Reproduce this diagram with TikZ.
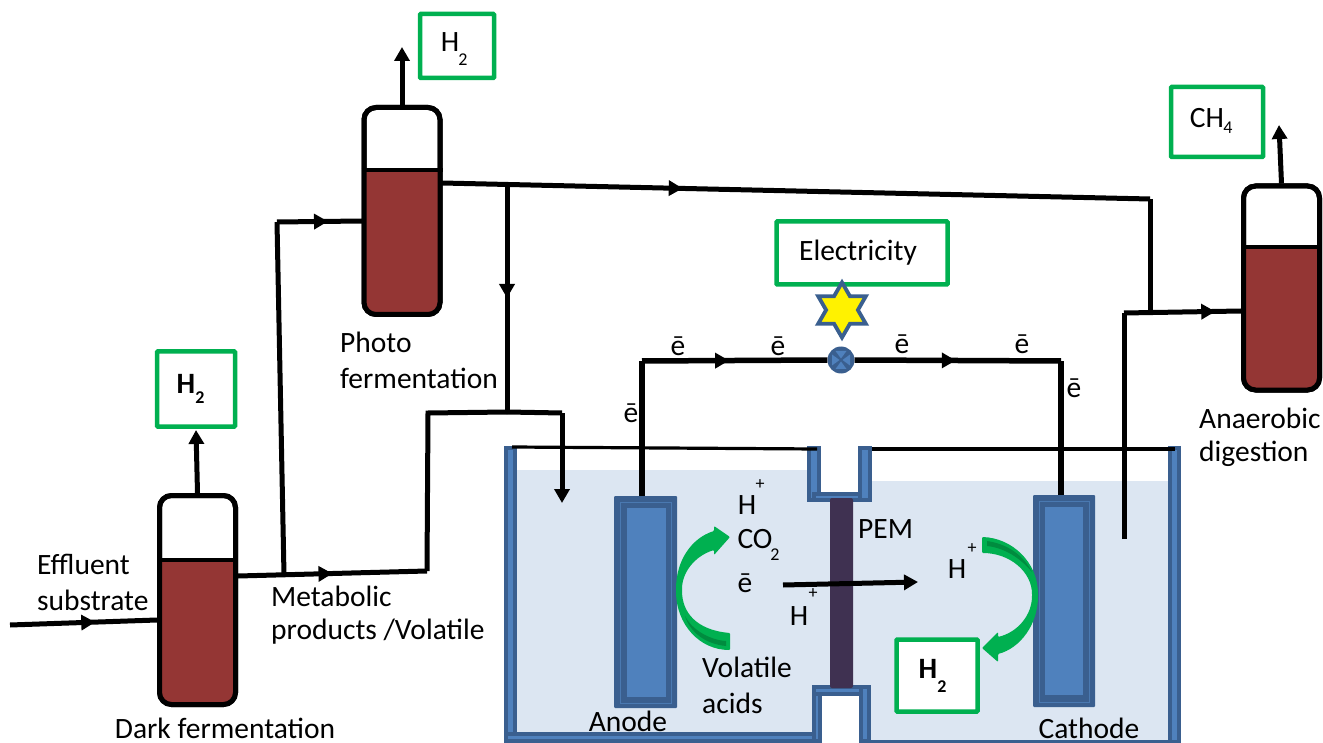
\documentclass[tikz,border=0pt]{standalone}
\usepackage{fontspec}
\setmainfont{Carlito}
\usetikzlibrary{arrows.meta,decorations.markings,shapes.geometric}
\definecolor{gbox}{HTML}{00B050}
\definecolor{gdark}{HTML}{008C3F}
\definecolor{brownfill}{HTML}{943634}
\definecolor{wallblue}{HTML}{4F81BD}
\definecolor{walldark}{HTML}{3A5F8F}
\definecolor{liquid}{HTML}{DCE6F2}
\definecolor{pemcol}{HTML}{3F3151}
\tikzset{
  x=1pt,y=-1pt,
  lab/.style={inner sep=0pt,font=\fontsize{29.5}{29.5}\selectfont},
  labl/.style={lab,anchor=west},
  sub/.style={inner sep=0pt,font=\fontsize{18}{18}\selectfont},
  gasbox/.style={draw=gbox,line width=4.5pt,rounded corners=0.8pt,fill=white,inner sep=0pt},
  pipe/.style={line width=5pt,black},
  wire/.style={line width=5.5pt,black},
  tip/.style={-{Triangle[length=14pt,width=15pt]}},
  midtip/.style={postaction={decorate},decoration={markings,mark=at position #1 with {\arrow{Triangle[length=14pt,width=15pt]}}}},
  vessel/.style={draw=black,line width=5pt,rounded corners=12pt,minimum width=76pt,minimum height=#1,inner sep=0pt,fill=white},
  wallpart/.style={fill=wallblue,draw=walldark,line width=3.5pt},
  electrode/.style={fill=walldark,rounded corners=1pt,inner sep=0pt},
}
\newcommand{\vesselfill}[4]{% x1 x2 level bottom
  \fill[brownfill,rounded corners=10pt] (#1,#3) -- (#2,#3) -- (#2,#4) -- (#1,#4) -- cycle;
  \fill[brownfill] (#1,#3) rectangle (#2,#3+15);
}
\begin{document}
\begin{tikzpicture}
\useasboundingbox (0,0) rectangle (1323,743);

% liquid
\fill[liquid] (517,470) -- (812,470) -- (812,502) -- (871,502) -- (871,481) -- (1168,481) -- (1168,742) -- (871,742) -- (871,690) -- (812,690) -- (812,733) -- (517,733) -- cycle;

% tank walls
\path[wallpart] (506,448) rectangle (515,741);
\path[wallpart] (506,734) rectangle (821,741);
\path[wallpart] (814,687) rectangle (820,741);
\path[wallpart] (814,687) rectangle (869,694);
\path[wallpart] (861,687) rectangle (869,741);
\path[wallpart] (871,741.5) rectangle (1170,742);
\path[wallpart] (1170,448) rectangle (1179,742);
\path[wallpart] (809,448) rectangle (819,500);
\path[wallpart] (814,494) rectangle (869,500);
\path[wallpart] (860,448) rectangle (870,500);
\fill[white] (821.5,450) rectangle (858,491.5);
\fill[white] (822,696) rectangle (858.5,743);

% tank rim lines
\coordinate (rimA) at (512,447);
\coordinate (rimB) at (817,449);
\coordinate (rimC) at (872,449);
\coordinate (rimD) at (1175,449);
\draw[line width=3.2pt] (rimA) -- (rimB);
\draw[line width=3.2pt] (rimC) -- (rimD);

% electrodes
\node[electrode,minimum width=63pt,minimum height=212pt] (anode) at (645.5,602) {};
\draw[wallblue!75!walldark,line width=1pt] (620,502) rectangle (671,703);
\fill[wallblue] (627,508) rectangle (666,697);
\node[electrode,minimum width=62pt,minimum height=212pt] (cathode) at (1064,601) {};
\draw[wallblue!75!walldark,line width=1pt] (1039,501) rectangle (1089,702);
\fill[wallblue] (1045,507) rectangle (1083,695);

% PEM
\node[fill=pemcol,rounded corners=2pt,minimum width=23pt,minimum height=190pt,inner sep=0pt] (pem) at (841.5,593) {};

% vessels
\node[vessel=209pt] (dark) at (197.5,600) {};
\node[vessel=207pt] (photo) at (402,211) {};
\node[vessel=204pt] (anaer) at (1281.5,288) {};
\vesselfill{160}{235}{560}{704}
\vesselfill{365}{439}{170}{313}
\vesselfill{1244}{1319}{247}{389}
\node[vessel=209pt,fill=none] at (197.5,600) {};
\node[vessel=207pt,fill=none] at (402,211) {};
\node[vessel=204pt,fill=none] at (1281.5,288) {};
\draw[line width=4pt] (dark.west |- 0,560) -- (dark.east |- 0,560);
\draw[line width=4pt] (photo.west |- 0,170) -- (photo.east |- 0,170);
\draw[line width=4pt] (anaer.west |- 0,247) -- (anaer.east |- 0,247);

% gas boxes
\node[gasbox,minimum width=78pt,minimum height=75pt] (boxA) at (196,389) {};
\node[gasbox,minimum width=74pt,minimum height=64pt] (boxB) at (457,46) {};
\node[gasbox,minimum width=92pt,minimum height=70pt] (boxC) at (1217,122) {};
\node[gasbox,minimum width=171pt,minimum height=63pt] (boxE) at (862,253) {};
\node[gasbox,minimum width=81pt,minimum height=72pt] (boxD) at (937,675.5) {};

% coordinates of the pipes
\coordinate (inS) at (10,625);
\coordinate (inE) at (157,620);
\coordinate (dOut) at (238,576);
\coordinate (dJ) at (284,575);
\coordinate (up1) at (427,571);
\coordinate (up2) at (428,413);
\coordinate (tee) at (507,412);
\coordinate (cellC) at (562,413);
\coordinate (cellIn) at (562,503);
\coordinate (b1) at (277,222);
\coordinate (b2) at (362,221);
\coordinate (pOut) at (442,183);
\coordinate (pJ) at (507,184);
\coordinate (c1) at (1150,199);
\coordinate (c2) at (1150,312);
\coordinate (a1) at (1124,539);
\coordinate (a2) at (1124,313);
\coordinate (a3) at (1241,311);

\draw[pipe,midtip=0.58] (inS) -- (inE);
\draw[pipe,tip] (dark.north) -- (196,430);
\draw[pipe,tip] (photo.north) -- (402,47);
\draw[pipe,tip] (anaer.north) -- (1279,125);
\draw[pipe,line join=miter] (dJ) -- (b1);
\draw[pipe,midtip=0.6] (b1) -- (b2);
\draw[pipe,midtip=0.5] (dOut) -- (up1);
\draw[pipe] (up1) -- (up2) -- (tee);
\draw[pipe] (tee) -- (cellC);
\draw[pipe,tip] (cellC) -- (cellIn);
\draw[pipe,midtip=0.34] (pOut) -- (c1);
\draw[pipe,midtip=0.5] (pJ) -- (tee);
\draw[pipe] (c1) -- (c2);
\draw[pipe] (a1) -- (a2);
\draw[pipe,midtip=0.78] (a2) -- (a3);

% external circuit
\coordinate (w1) at (642,361);
\coordinate (w2) at (1061,361);
\node[circle,fill=walldark,minimum size=27pt,inner sep=0pt] (meter) at (841,360) {};
\fill[wallblue] (841,358.5) -- ++(-5.5,-7.5) -- ++(11,0) -- cycle;
\fill[wallblue] (841,361.5) -- ++(-5.5,7.5) -- ++(11,0) -- cycle;
\fill[wallblue] (839.5,360) -- ++(-7.5,-5.5) -- ++(0,11) -- cycle;
\fill[wallblue] (842.5,360) -- ++(7.5,-5.5) -- ++(0,11) -- cycle;
\draw[wire,midtip=0.47] (w1) -- (meter.west);
\draw[wire,midtip=0.49] (meter.east) -- (w2);
\draw[wire] (anode.north -| w1) -- (w1);
\draw[wire] (cathode.north -| w2) -- (w2);
\node[star,star points=6,star point ratio=1.73,draw=walldark,fill=yellow,line width=3.8pt,minimum size=55pt,inner sep=0pt] (starE) at (842,310) {};

% ion arrow
\coordinate (ionS) at (783,585);
\coordinate (ionE) at (918,582);
\draw[pipe,tip] (ionS) -- (ionE);

% green arrows
\fill[gbox,rounded corners=1pt] (730,633) .. controls (696,630) and (682,612) .. (682,590)
  .. controls (682,572) and (695,556) .. (714,550) -- (714,555) -- (730,537) -- (714,526) -- (714,531)
  .. controls (692,538) and (676,560) .. (676,590)
  .. controls (676,625) and (700,650) .. (730,650) -- cycle;
\fill[gdark] (685,616) .. controls (692,630) and (710,640) .. (726,641) -- (726,646) .. controls (705,644) and (690,632) .. (685,616) -- cycle;
\fill[gbox,rounded corners=1pt] (982,537) .. controls (1012,538) and (1038,562) .. (1038,595)
  .. controls (1038,625) and (1020,648) .. (998,654) -- (998,662) -- (982,648) -- (998,632) -- (998,637)
  .. controls (1018,632) and (1032,615) .. (1032,595)
  .. controls (1032,572) and (1010,553) .. (982,553) -- cycle;
\fill[gdark] (987,541) .. controls (1008,544) and (1024,556) .. (1032,572) .. controls (1020,558) and (1005,548) .. (987,546) -- cycle;

% texts
\node[labl] (tEff) at (37,564) {Effluent};
\node[labl] (tSub) at (37,600) {substrate};
\node[lab] (tDark) at (225,728) {Dark fermentation};
\node[labl] (tMet) at (271,596) {Metabolic};
\node[labl] (tPro) at (271,632) {products /Volatile};
\node[labl] (tPho) at (340,342) {Photo};
\node[labl] (tFer) at (340,378) {fermentation};
\node[labl] (tAna) at (1199,418) {Anaerobic};
\node[labl] (tDig) at (1199,454) {digestion};
\node[lab] (tElec) at (858,253) {Electricity};
\node[lab] (e1) at (678,346) {ē};
\node[lab] (e2) at (778,346) {ē};
\node[lab] (e3) at (902,344) {ē};
\node[lab] (e4) at (1022,344) {ē};
\node[lab] (e5) at (1074,388) {ē};
\node[lab] (e6) at (631,413) {ē};
\node[lab] (tH1) at (747,505) {H};
\node[sub] (tP1) at (760,485) {+};
\node[lab] (tCO) at (755,539) {CO};
\node[sub] (tC2) at (775,555) {2};
\node[lab] (tE7) at (745,583) {ē};
\node[lab] (tH2) at (799,616) {H};
\node[sub] (tP2) at (813,594) {+};
\node[labl] (tVol) at (702,667) {Volatile};
\node[labl] (tAci) at (702,703) {acids};
\node[lab] (tAno) at (628,721) {Anode};
\node[labl] (tPEM) at (858,529) {PEM};
\node[lab] (tH3) at (957,569) {H};
\node[sub] (tP3) at (972,549) {+};
\node[lab] (tCat) at (1089,728) {Cathode};
\node[lab,font=\fontsize{29.5}{29.5}\selectfont\bfseries] (tHa) at (186,384) {H};
\node[sub,font=\fontsize{18}{18}\selectfont\bfseries] (tHa2) at (200,398) {2};
\node[lab] (tHb) at (450,42) {H};
\node[sub] (tHb2) at (463,60) {2};
\node[lab] (tCH) at (1207,118) {CH};
\node[sub] (tCH4) at (1228,128) {4};
\node[lab,font=\fontsize{29.5}{29.5}\selectfont\bfseries] (tHd) at (928,669) {H};
\node[sub,font=\fontsize{18}{18}\selectfont\bfseries] (tHd2) at (942,687) {2};
\end{tikzpicture}
\end{document}
